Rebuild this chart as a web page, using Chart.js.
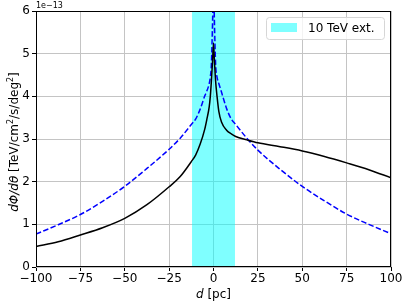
<!DOCTYPE html>
<html>
<head>
<meta charset="utf-8">
<script src="https://cdn.jsdelivr.net/npm/chart.js"></script>
<style>
  html, body { margin: 0; padding: 0; background: #fff; }
  #wrap { width: 407px; height: 305px; }
</style>
</head>
<body>
<div id="wrap"><canvas id="chart" width="407" height="305"></canvas></div>
<script>
// distance along the profile [pc]
const distance = [-100, -87.5, -75, -62.5, -50, -37.5, -25, -18.75, -12.5, -10, -7.5, -5, -3.8, -2.4, -1.8, -1.2, -0.5, 0,
                  0.5, 1.2, 2, 3, 4.5, 7.5, 10, 12.5, 18.75, 25, 37.5, 50, 62.5, 75, 87.5, 100];

// flux profile, units of 1e-13 TeV/cm2/s/deg2
const fluxSolid = [0.48, 0.59, 0.75, 0.92, 1.14, 1.46, 1.88, 2.12, 2.47, 2.63, 2.88, 3.22, 3.45, 3.76, 4.0, 4.35, 4.85, 5.25,
                   4.85, 4.35, 4.0, 3.65, 3.4, 3.2, 3.12, 3.06, 2.98, 2.91, 2.82, 2.72, 2.59, 2.44, 2.28, 2.09];
const fluxDashed = [0.77, 0.99, 1.23, 1.54, 1.89, 2.31, 2.76, 3.02, 3.34, 3.47, 3.70, 4.0, 4.12, 4.3, 4.45, 4.75, 5.8, 6.8,
                    5.8, 4.75, 4.45, 4.3, 4.1, 3.70, 3.47, 3.34, 3.02, 2.74, 2.29, 1.89, 1.55, 1.24, 1.0, 0.78];

// 10 TeV extension band
const bandEdges = [-12.1, 12.1];
const bandLabel = '10 TeV ext.';

const xTicks = [-100, -75, -50, -25, 0, 25, 50, 75, 100];
const yTicks = [0, 1, 2, 3, 4, 5, 6];

const toPoints = (xs, ys) => xs.map((x, i) => ({ x: x, y: ys[i] }));

Chart.defaults.font.family = "'DejaVu Sans', sans-serif";
Chart.defaults.font.size = 12;
Chart.defaults.color = '#000';

const FONT = "'DejaVu Sans', sans-serif";

// frame, offset text, axis titles, legend
const decorations = {
    id: 'decorations',
    afterDraw(chart) {
        const ctx = chart.ctx;
        const a = chart.chartArea;
        ctx.save();

        ctx.strokeStyle = '#000';
        ctx.lineWidth = 1;
        ctx.strokeRect(a.left + 0.5, a.top + 0.5, a.right - a.left - 1, a.bottom - a.top - 1);

        ctx.fillStyle = '#000';
        ctx.textBaseline = 'alphabetic';
        ctx.textAlign = 'left';
        ctx.font = '8px ' + FONT;
        ctx.fillText('1e\u221213', a.left, a.top - 3);

        // x title
        ctx.font = 'italic 12px ' + FONT;
        const dW = ctx.measureText('d').width;
        ctx.font = '12px ' + FONT;
        const restW = ctx.measureText(' [pc]').width;
        let x0 = (a.left + a.right) / 2 - (dW + restW) / 2;
        ctx.font = 'italic 12px ' + FONT;
        ctx.fillText('d', x0, 298);
        ctx.font = '12px ' + FONT;
        ctx.fillText(' [pc]', x0 + dW, 298);

        // y title, rotated
        const parts = [
            { t: 'd\u03a6/d\u03b8', f: 'italic 12px ' + FONT, dy: 0 },
            { t: ' [TeV/cm', f: '12px ' + FONT, dy: 0 },
            { t: '2', f: '8px ' + FONT, dy: -5 },
            { t: '/s/deg', f: '12px ' + FONT, dy: 0 },
            { t: '2', f: '8px ' + FONT, dy: -5 },
            { t: ']', f: '12px ' + FONT, dy: 0 }
        ];
        let total = 0;
        parts.forEach(p => { ctx.font = p.f; p.w = ctx.measureText(p.t).width; total += p.w; });
        ctx.translate(18, (a.top + a.bottom) / 2 + 3);
        ctx.rotate(-Math.PI / 2);
        let cx = -total / 2;
        parts.forEach(p => {
            ctx.font = p.f;
            ctx.fillText(p.t, cx, p.dy);
            cx += p.w;
        });
        ctx.restore();

        // legend box
        ctx.save();
        const lx = 266.5, ly = 17.5, lw = 118, lh = 22, r = 3;
        ctx.beginPath();
        ctx.moveTo(lx + r, ly);
        ctx.arcTo(lx + lw, ly, lx + lw, ly + lh, r);
        ctx.arcTo(lx + lw, ly + lh, lx, ly + lh, r);
        ctx.arcTo(lx, ly + lh, lx, ly, r);
        ctx.arcTo(lx, ly, lx + lw, ly, r);
        ctx.closePath();
        ctx.fillStyle = 'rgba(255,255,255,0.8)';
        ctx.fill();
        ctx.strokeStyle = '#d6d6d6';
        ctx.lineWidth = 1;
        ctx.stroke();
        ctx.fillStyle = 'rgba(0,255,255,0.5)';
        ctx.fillRect(271, 23, 26, 9);
        ctx.fillStyle = '#000';
        ctx.font = '12px ' + FONT;
        ctx.textBaseline = 'middle';
        ctx.fillText(bandLabel, 308, 28.5);
        ctx.restore();
    }
};

new Chart(document.getElementById('chart'), {
    type: 'line',
    data: {
        datasets: [
            {
                label: 'solid',
                data: toPoints(distance, fluxSolid),
                borderColor: '#000',
                borderWidth: 1.5,
                pointRadius: 0,
                cubicInterpolationMode: 'monotone',
                fill: false,
                order: 0
            },
            {
                label: 'dashed',
                data: toPoints(distance, fluxDashed),
                borderColor: '#0000ff',
                borderWidth: 1.5,
                borderDash: [5.5, 2.4],
                pointRadius: 0,
                cubicInterpolationMode: 'monotone',
                fill: false,
                order: 1
            },
            {
                label: bandLabel,
                data: toPoints(bandEdges, [yTicks[yTicks.length - 1], yTicks[yTicks.length - 1]]),
                borderWidth: 0,
                borderColor: 'rgba(0,0,0,0)',
                backgroundColor: 'rgba(0,255,255,0.5)',
                pointRadius: 0,
                fill: 'origin',
                order: 2
            }
        ]
    },
    options: {
        responsive: false,
        animation: false,
        layout: { padding: { left: 0, top: 11, right: 16, bottom: 0 } },
        plugins: {
            legend: { display: false },
            tooltip: { enabled: false }
        },
        scales: {
            x: {
                type: 'linear',
                min: -100,
                max: 100,
                afterBuildTicks: s => { s.ticks = xTicks.map(v => ({ value: v })); },
                afterFit: s => { s.height = 38; },
                ticks: {
                    padding: 1,
                    maxRotation: 0,
                    callback: v => String(v).replace('-', '\u2212')
                },
                grid: { color: '#c4c4c4', lineWidth: 1, tickLength: 4, tickColor: '#000' },
                border: { display: false }
            },
            y: {
                min: 0,
                max: 6,
                afterBuildTicks: s => { s.ticks = yTicks.map(v => ({ value: v })); },
                afterFit: s => { s.width = 36; },
                ticks: { padding: 2 },
                grid: { color: '#c4c4c4', lineWidth: 1, tickLength: 4, tickColor: '#000' },
                border: { display: false }
            }
        }
    },
    plugins: [decorations]
});
</script>
</body>
</html>
